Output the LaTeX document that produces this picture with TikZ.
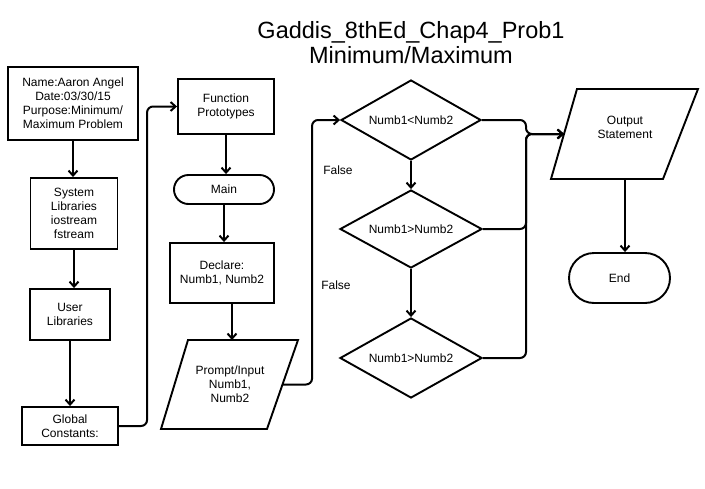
\documentclass[tikz,border=0pt]{standalone}
\usepackage{fontspec}
\setmainfont{Liberation Sans}
\usetikzlibrary{arrows.meta,shapes.geometric,shapes.misc,calc}
\begin{document}
\begin{tikzpicture}[x=1pt,y=-1pt,
  every node/.style={font=\fontsize{12}{14}\selectfont, align=center, inner sep=0pt},
  procbox/.style={draw, line width=1.9pt, rectangle},
  termbox/.style={draw, line width=1.9pt, rounded rectangle},
  decbox/.style={draw, line width=1.9pt, diamond, aspect=1.75},
  ioline/.style={draw, line width=1.9pt, line join=miter},
  flow/.style={line width=2pt, -{Straight Barb[length=5pt,width=9pt]}, rounded corners=6pt},
  lbl/.style={font=\fontsize{12}{14}\selectfont},
  ttl/.style={font=\fontsize{23.5}{25}\selectfont, anchor=base}
]
\useasboundingbox[fill=white] (0,0) rectangle (705,488);

% title
\node[ttl] (title1) at (411,38) {Gaddis\_8thEd\_Chap4\_Prob1};
\node[ttl] (title2) at (411,63) {Minimum/Maximum};

% left column
\node[procbox, minimum width=130pt, minimum height=73pt] (name) at (73,103.5)
  {Name:Aaron Angel\\Date:03/30/15\\Purpose:Minimum/\\Maximum Problem};
\node[procbox, minimum width=87pt, minimum height=71pt] (sys) at (74,213.5)
  {System\\Libraries\\iostream\\fstream};
\node[procbox, minimum width=80pt, minimum height=51pt] (user) at (70,314.5)
  {User\\Libraries};
\node[procbox, minimum width=96pt, minimum height=38pt] (glob) at (70,426)
  {Global\\Constants:};

% middle column
\node[procbox, minimum width=96pt, minimum height=55pt] (func) at (226,106.5)
  {Function\\Prototypes};
\node[termbox, minimum width=100pt, minimum height=29pt] (main) at (224,189.5) {Main};
\node[procbox, minimum width=104pt, minimum height=60pt] (decl) at (222,273)
  {Declare:\\Numb1, Numb2};
\draw[ioline] (188,340) -- (298,340) -- (267,429) -- (161,429) -- cycle;
\node (prompt) at (230,384) {Prompt/Input\\Numb1,\\Numb2};
\coordinate (promptT) at (232,340);
\coordinate (promptR) at (282.5,384.5);

% decisions
\node[decbox, minimum width=140pt, minimum height=80pt] (d1) at (411,120) {Numb1<Numb2};
\node[decbox, minimum width=142pt, minimum height=78pt] (d2) at (411,229) {Numb1>Numb2};
\node[decbox, minimum width=142pt, minimum height=80pt] (d3) at (411,358) {Numb1>Numb2};
\node[lbl] (f1) at (338,170) {False};
\node[lbl] (f2) at (336,285) {False};

% output / end
\draw[ioline] (577,89) -- (698,89) -- (663,179) -- (551,179) -- cycle;
\node (out) at (625,127.5) {Output\\Statement};
\coordinate (outL) at (564,134);
\coordinate (outB) at (625,179);
\node[termbox, minimum width=101pt, minimum height=50pt] (endt) at (619.5,278) {End};
\coordinate (mrg) at (526,134);

% connectors
\draw[flow] (name.south) -- (name.south |- sys.north);
\draw[flow] (sys.south) -- (sys.south |- user.north);
\draw[flow] (user.south) -- (user.south |- glob.north);
\draw[flow] (glob.east) -| ($(func.west)+(-30,0)$) -- (func.west);
\draw[flow] (func.south) -- (func.south |- main.north);
\draw[flow] (main.south) -- (main.south |- decl.north);
\draw[flow] (decl.south -| promptT) -- (promptT);
\draw[flow] (promptR) -| ($(d1.west)+(-28,0)$) -- (d1.west);
\draw[flow] (d1.south) -- (d2.north);
\draw[flow] (d2.south) -- (d3.north);
\draw[flow] (d1.east) -| (mrg) -- (outL);
\draw[flow] (d2.east) -| (mrg) -- (outL);
\draw[flow] (d3.east) -| (mrg) -- (outL);
\draw[flow] (outB) -- (outB |- endt.north);
\end{tikzpicture}
\end{document}
